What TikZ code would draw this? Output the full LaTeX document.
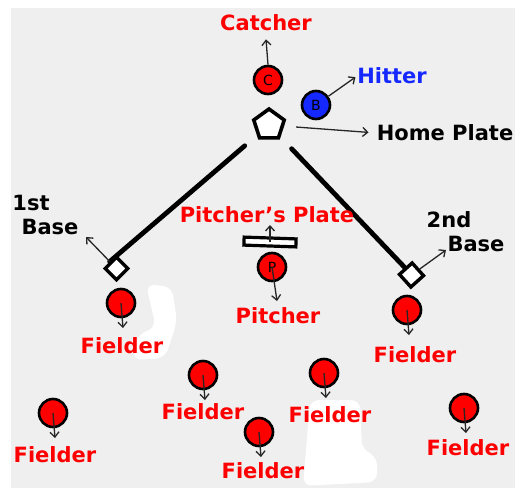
\documentclass[tikz,border=0pt]{standalone}
\usepackage{fontspec}
\setmainfont{DejaVu Sans}
\usetikzlibrary{shapes.geometric,arrows.meta}
\definecolor{bgc}{RGB}{239,239,239}
\definecolor{hred}{RGB}{255,0,0}
\definecolor{hblue}{RGB}{20,40,255}
\begin{document}
\begin{tikzpicture}[x=1pt,y=-1pt,
  lbl/.style={font=\fontsize{21}{24}\selectfont\bfseries,inner sep=0pt},
  redlbl/.style={lbl,text=hred},
  ball/.style={circle,draw=black,line width=2.6pt,minimum size=28pt,inner sep=0pt,font=\fontsize{14}{15}\selectfont},
  redball/.style={ball,fill=hred},
  arr/.style={-{Straight Barb[length=5pt,width=9pt,line width=1.3pt]},line width=1.3pt,draw=black!85},
  pathline/.style={line width=4.8pt,line cap=round},
  basebox/.style={rectangle,draw=black,fill=white,line width=3.4pt,minimum size=16pt,inner sep=0pt}
]
\useasboundingbox (0,0) rectangle (515,488);
% background
\fill[bgc] (11,8) rectangle (515,488);
\fill[white,rounded corners=9pt] (146,284) -- (172,287) -- (177,322) -- (165,358) -- (132,360) -- (138,334) -- (156,328) -- cycle;
\fill[white,rounded corners=9pt] (310,400) -- (360,400) -- (362,450) -- (377,456) -- (377,482) -- (303,486) -- (306,450) -- cycle;

% home plate and bases
\node[regular polygon,regular polygon sides=5,draw=black,fill=white,line width=3.6pt,minimum size=32pt,inner sep=0pt] (home) at (269,125) {};
\node[basebox,rotate=45] (b1) at (116.5,268.5) {};
\node[basebox,rotate=42,minimum size=17pt] (b2) at (411.5,275) {};
\draw[pathline,shorten >=16pt] (b1.north) -- (home);
\draw[pathline,shorten >=16pt] (b2.north) -- (home);

% catcher
\node[redball] (C) at (268,80) {C};
\node[redlbl] (Ctxt) at (266,23) {Catcher};
\draw[arr] (C.north) -- ([yshift=-8pt]Ctxt.south);

% hitter
\node[ball,fill=hblue] (B) at (316,105) {B};
\node[lbl,text=hblue] (Htxt) at (392,76) {Hitter};
\draw[arr,shorten >=2pt] (B) -- (Htxt.west);

% home plate label
\node[lbl] (HPtxt) at (445,133) {Home Plate};
\draw[arr,shorten <=12pt,shorten >=8pt] (home) -- (HPtxt.west);

% 1st base
\node[lbl] (b1a) at (31,203) {1st};
\node[lbl] (b1b) at (50,227) {Base};
\coordinate (b1tip) at (86,237);
\draw[arr] (b1) -- (b1tip);

% 2nd base
\node[lbl] (b2a) at (449,220) {2nd};
\node[lbl] (b2b) at (476,244) {Base};
\coordinate (b2tip) at (446,250);
\draw[arr] (b2) -- (b2tip);

% pitcher's plate
\node[redlbl] (PPtxt) at (267,215) {Pitcher's Plate};
\node[rectangle,draw=black,fill=white,line width=3.2pt,minimum width=52pt,minimum height=8pt,inner sep=0pt,rotate=-2] (pplate) at (270,242) {};
\coordinate (pptip) at (270,225);
\draw[arr] (pplate.center) -- (pptip);

% pitcher
\node[redball] (P) at (272,267) {P};
\coordinate (Ptip) at (277,301);
\draw[arr] (P.center) -- (Ptip);
\node[redlbl] (Ptxt) at (278,316) {Pitcher};

% fielders
\foreach \n/\x/\y/\tx/\ty in {1/121/303/122/346, 2/407/310/415/355, 3/203/375/203/412, 4/324/373/330/415, 5/53/413/55/455, 6/259/432/263/471, 7/464/408/468/448}{
  \node[redball] (f\n) at (\x,\y) {};
  \coordinate (f\n tip) at (\x+2,\y+25);
  \draw[arr] (f\n.center) -- (f\n tip);
  \node[redlbl] (f\n txt) at (\tx,\ty) {Fielder};
}
\end{tikzpicture}
\end{document}
